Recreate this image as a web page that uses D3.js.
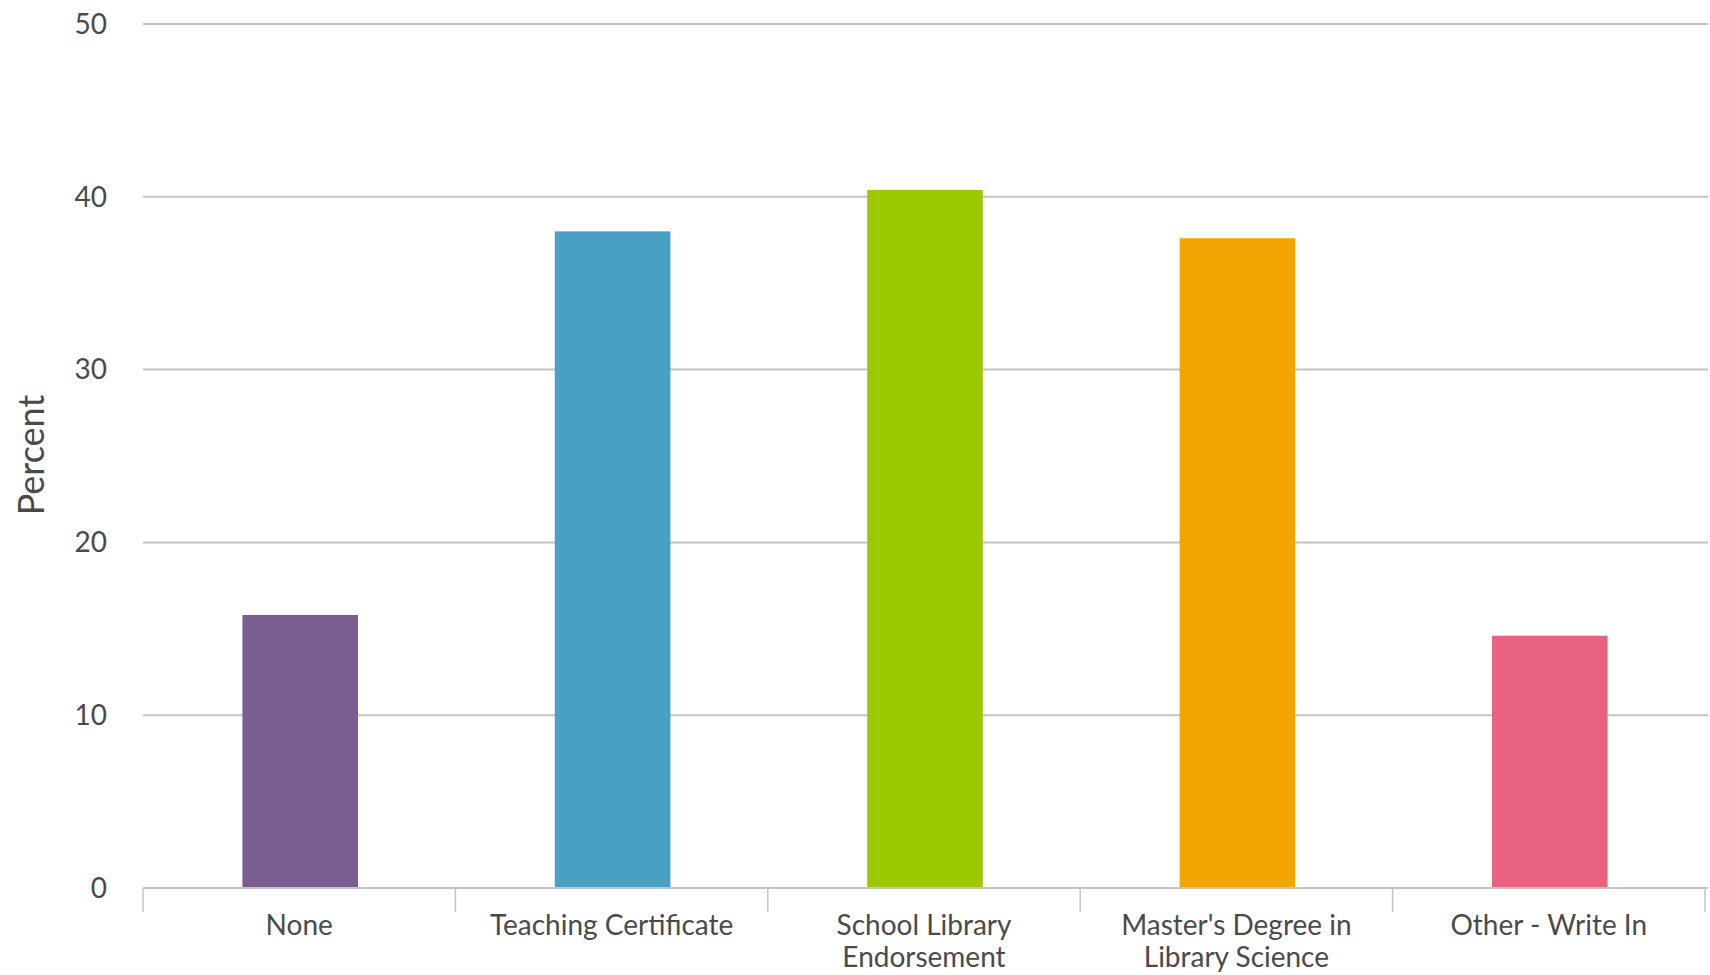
<!DOCTYPE html>
<html>
<head>
<meta charset="utf-8">
<script src="https://cdn.jsdelivr.net/npm/d3@7"></script>
<style>
  html, body { margin: 0; padding: 0; background: #fff; }
  svg { display: block; }
  text { font-family: Lato, "Open Sans", sans-serif; }
</style>
</head>
<body>
<script>
const categories = ["None", "Teaching Certificate", "School Library Endorsement", "Master's Degree in Library Science", "Other - Write In"];
const labelLines = [["None"], ["Teaching Certificate"], ["School Library", "Endorsement"], ["Master's Degree in", "Library Science"], ["Other - Write In"]];
const values = [15.8, 38.0, 40.4, 37.6, 14.6];
const colors = ["#7a5d91", "#48a0c5", "#9cc800", "#f2a400", "#e8637f"];
const yTicks = [0, 10, 20, 30, 40, 50];
const yTitle = "Percent";

const W = 1710, H = 975;
const svg = d3.select("body").append("svg").attr("width", W).attr("height", H);

const x = d3.scaleBand().domain(categories).range([143, 1705]).padding(0);
const y = d3.scaleLinear().domain([0, 50]).range([888, 24]);

// gridlines
svg.append("g").selectAll("line").data(yTicks.filter(t => t > 0)).join("line")
  .attr("x1", 143).attr("x2", 1708)
  .attr("y1", d => y(d)).attr("y2", d => y(d))
  .attr("stroke", "#c4c4c4").attr("stroke-width", 2);

// y labels
svg.append("g").selectAll("text").data(yTicks).join("text")
  .attr("x", 107).attr("y", d => y(d)).attr("dy", "0.35em")
  .attr("text-anchor", "end").attr("font-size", 28).attr("fill", "#4a4a4a")
  .text(d => d);

// y title
svg.append("text")
  .attr("transform", `translate(44, 455) rotate(-90)`)
  .attr("text-anchor", "middle").attr("font-size", 36).attr("fill", "#4a4a4a")
  .text(yTitle);

// bars
const barW = x.bandwidth() * 0.37;
svg.append("g").selectAll("rect").data(values).join("rect")
  .attr("x", (d, i) => x(categories[i]) + (x.bandwidth() - barW) / 2 + 1)
  .attr("width", barW)
  .attr("y", d => y(d))
  .attr("height", d => y(0) - y(d))
  .attr("fill", (d, i) => colors[i]);

// x axis line
svg.append("line").attr("x1", 143).attr("x2", 1708).attr("y1", y(0)).attr("y2", y(0))
  .attr("stroke", "#c4c4c4").attr("stroke-width", 2);

// x ticks at band boundaries
const bounds = categories.map(c => x(c)).concat([x(categories[categories.length - 1]) + x.bandwidth()]);
svg.append("g").selectAll("line").data(bounds).join("line")
  .attr("x1", d => d).attr("x2", d => d)
  .attr("y1", y(0)).attr("y2", y(0) + 24)
  .attr("stroke", "#c4c4c4").attr("stroke-width", 1.5);

// x labels
const lg = svg.append("g").selectAll("text").data(categories).join("text")
  .attr("x", d => x(d) + x.bandwidth() / 2)
  .attr("y", 935)
  .attr("text-anchor", "middle").attr("font-size", 28).attr("fill", "#4a4a4a");
lg.each(function(d, i) {
  d3.select(this).selectAll("tspan").data(labelLines[i]).join("tspan")
    .attr("x", x(d) + x.bandwidth() / 2)
    .attr("dy", (t, j) => j === 0 ? 0 : 32)
    .text(t => t);
});
</script>
</body>
</html>
